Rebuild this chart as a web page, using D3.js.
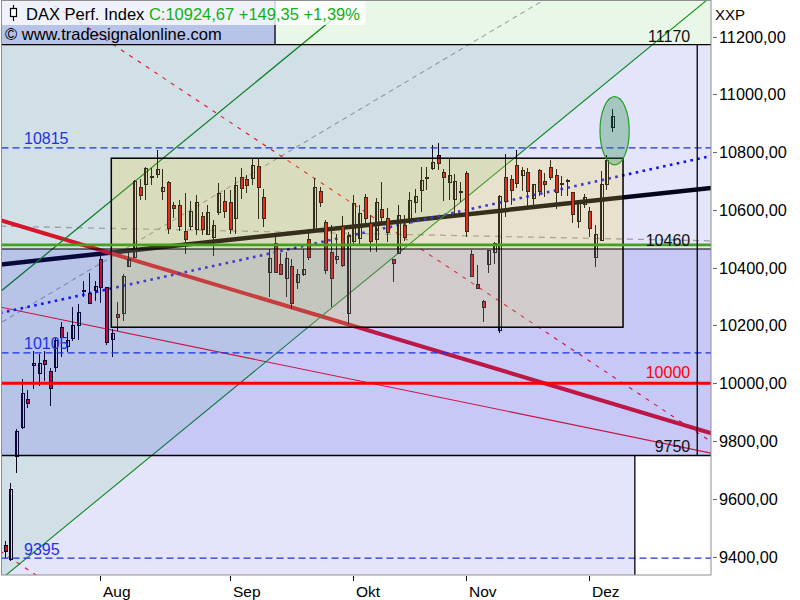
<!DOCTYPE html>
<html><head><meta charset="utf-8">
<script src="https://cdn.jsdelivr.net/npm/d3@7"></script>
<style>body{margin:0;background:#fff}svg{display:block}text{font-family:"Liberation Sans",Arial,sans-serif}</style>
</head><body><svg id="c" width="800" height="600"></svg>
<script>
// ---- DATA ----
const opens  = [9437,9389,9746,9846,9944,10061,10033,10079,10042,10053,10194,10128,10154,10200,10317,10310,10321,10429,10331,10150,10238,10243,10405,10436,10678,10688,10715,10723,10665,10696,10616,10616,10526,10543,10533,10578,10515,10505,10592,10630,10627,10572,10712,10705,10708,10749,10643,10383,10483,10410,10362,10403,10350,10376,10497,10527,10664,10556,10452,10428,10544,10241,10492,10500,10643,10552,10497,10602,10572,10429,10448,10547,10560,10627,10668,10710,10745,10787,10729,10695,10636,10659,10726,10446,10341,10283,10410,10452,10183,10713,10705,10754,10720,10731,10641,10737,10699,10748,10720,10690,10700,10659,10560,10618,10595,10437,10495,10688,10884];
const highs  = [9453,9656,9843,10016,9978,10110,10103,10111,10054,10157,10211,10177,10263,10276,10354,10381,10354,10443,10333,10189,10281,10377,10460,10705,10706,10748,10744,10806,10741,10699,10626,10633,10657,10630,10651,10592,10616,10564,10692,10668,10668,10714,10745,10722,10780,10780,10674,10466,10514,10452,10454,10429,10397,10466,10535,10711,10679,10564,10547,10518,10578,10523,10651,10616,10656,10581,10643,10697,10607,10431,10616,10584,10662,10674,10749,10749,10824,10830,10741,10778,10726,10697,10734,10460,10408,10287,10463,10489,10651,10795,10720,10807,10749,10745,10688,10743,10729,10772,10743,10716,10708,10660,10630,10656,10610,10547,10734,10789,10949];
const lows   = [9396,9385,9690,9843,9916,9981,9989,10009,9923,10040,10090,10107,10148,10150,10298,10273,10284,10277,10131,10090,10180,10217,10402,10433,10633,10636,10685,10710,10633,10515,10571,10526,10446,10529,10512,10512,10512,10439,10581,10572,10516,10516,10639,10659,10685,10570,10541,10298,10383,10376,10298,10258,10327,10371,10428,10523,10610,10379,10263,10414,10402,10206,10483,10483,10552,10454,10454,10552,10489,10350,10448,10491,10552,10591,10593,10668,10737,10737,10630,10633,10587,10627,10506,10367,10325,10211,10383,10414,10175,10575,10618,10676,10664,10607,10612,10647,10645,10703,10604,10647,10648,10555,10537,10607,10506,10402,10491,10668,10870];
const closes = [9417,9632,9833,9964,9930,10068,10069,10064,9981,10148,10157,10148,10200,10246,10320,10275,10336,10331,10142,10171,10227,10370,10429,10699,10651,10744,10713,10741,10677,10536,10605,10543,10498,10595,10626,10533,10592,10547,10657,10593,10533,10685,10674,10685,10754,10676,10572,10431,10385,10378,10431,10275,10376,10393,10437,10677,10627,10391,10362,10439,10406,10512,10622,10587,10570,10491,10625,10575,10523,10414,10581,10506,10633,10647,10703,10712,10764,10760,10711,10720,10699,10665,10527,10370,10327,10261,10460,10483,10647,10630,10668,10693,10737,10664,10688,10665,10688,10714,10662,10691,10702,10584,10627,10643,10535,10514,10688,10772,10925];
const monthLabels = ["Aug","Sep","Okt","Nov","Dez"];
const monthBars   = [17,40,62,82,104];
const yTickValues = [9400,9600,9800,10000,10200,10400,10600,10800,11000,11200];
// trend lines: [bar, price] anchor pairs
const upperChannel = [[-0.85,10316],[59,11271]];
const lowerChannel = [[0.21,9336],[124.2,11315]];
const redThick     = [[-0.85,10565],[125.7,9827]];
const redThin      = [[-0.85,10264],[125.7,9758]];
const redDashA     = [[7.33,11327],[125.7,9797]];
const redDashB     = [[-0.85,9419],[7.33,9313]];
const grayRise     = [[-0.5,10212],[95.95,11327]];
const grayFlat     = [[-0.85,10544],[125.7,10493]];
const blueDotted   = [[-0.85,10243],[125.7,10787]];
const blackTrend   = [[-0.85,10411],[125.7,10676]];
// horizontal levels
const levelTop = 11172, levelBlue1 = 10815, levelGreen = 10479, levelMid = 10465, levelBlue2 = 10105, levelRed = 10000, levelLow = 9750, levelBlue3 = 9395;
const levelLabelsRight = [["11170",11172,"#111"],["10460",10465,"#111"],["10000",10000,"#ff0000"],["9750",9750,"#111"]];
const levelLabelsLeft  = [["10815",10815],["10105",10105],["9395",9395]];
// zones (bar index bounds)
const zoneTopLeftEnd = 48.08, zoneMainEnd = 123.2, zoneLowEnd = 112.1;
const box = {i0:18.95, i1:110, p0:10194, p1:10779};
const ellipse = {i:108.5, p:10874, di:2.6, dp:118};

// ---- CHART ----
const svg = d3.select("#c");
const L = 1.5, R = 711, T = 0.5, B = 575;
const x = d3.scaleLinear().domain([0,108]).range([4.8,611.8]);
const y = d3.scaleLinear().domain([9400,11200]).range([556.6,36.6]);
const P = a => [x(a[0]), y(a[1])];
const line = d3.line();

svg.append("defs").append("clipPath").attr("id","plot")
  .append("rect").attr("x",L).attr("y",T).attr("width",R-L).attr("height",B-T);
const g = svg.append("g").attr("clip-path","url(#plot)");
g.append("rect").attr("x",L).attr("y",T).attr("width",R-L).attr("height",B-T).attr("fill","#fff");

function ext(seg,t0,t1){const p=P(seg[0]),q=P(seg[1]);const dx=q[0]-p[0],dy=q[1]-p[1];
  return [[p[0]+dx*t0,p[1]+dy*t0],[p[0]+dx*t1,p[1]+dy*t1]];}
// green base left of lower channel line
const [e1,e2] = ext(lowerChannel,-1,2);
g.append("polygon").attr("points",[e1,e2,[e2[0]-3000,e2[1]],[e1[0]-3000,e1[1]]].map(p=>p.join(",")).join(" "))
  .attr("fill","#eafaea");
g.append("rect").attr("x",x(zoneTopLeftEnd)).attr("y",T).attr("width",R-x(zoneTopLeftEnd)).attr("height",y(levelTop)-T).attr("fill","#e9f7e9");

function drawSeg(seg, opts, t0=0, t1=1){
  const pts = ext(seg,t0,t1);
  const p = g.append("path").attr("d",line(pts)).attr("fill","none")
    .attr("stroke",opts.c).attr("stroke-width",opts.w);
  if(opts.dash) p.attr("stroke-dasharray",opts.dash);
  return p;
}
drawSeg(grayRise,{c:"#a4a4a4",w:1.1,dash:"5,4"});
drawSeg(grayFlat,{c:"#b0aca4",w:1.3,dash:"6,5"});
drawSeg(redDashA,{c:"#ff1010",w:1.1,dash:"4,6"});
drawSeg(redDashB,{c:"#ff1010",w:1.1,dash:"4,6"},0,1.5);
drawSeg(blackTrend,{c:"#000",w:4.5});
drawSeg(redThick,{c:"#f01414",w:4});
drawSeg(redThin,{c:"#ff1010",w:1.1});
drawSeg(blueDotted,{c:"#1010ff",w:2.6,dash:"2.6,4.4"});
drawSeg(upperChannel,{c:"#0c8c0c",w:1.3});
drawSeg(lowerChannel,{c:"#0c960c",w:1.1},-0.1,1.1);

// candles
const cg = g.append("g").attr("shape-rendering","crispEdges");
opens.forEach((o,i)=>{
  const c = closes[i], cx = Math.round(x(i));
  cg.append("line").attr("x1",cx+0.5).attr("x2",cx+0.5).attr("y1",y(highs[i])).attr("y2",y(lows[i]))
    .attr("stroke","#000").attr("stroke-width",1);
  const top = y(Math.max(o,c)), bot = y(Math.min(o,c));
  cg.append("rect").attr("x",cx-1).attr("y",top).attr("width",3).attr("height",Math.max(1,bot-top))
    .attr("fill", c<o ? "#ff0000" : "none").attr("stroke","#000").attr("stroke-width",1);
});

// translucent overlays
function zone(i0,i1,p0,p1,fill){
  const x0 = i0===null?L:x(i0), x1 = i1===null?R:x(i1);
  const y0 = p0===null?B:y(p0), y1 = p1===null?T:y(p1);
  g.append("rect").attr("x",x0).attr("y",y1).attr("width",x1-x0).attr("height",y0-y1).attr("fill",fill);
}
const O1 = "rgba(30,30,213,0.12)", O2 = "rgba(40,40,235,0.15)";
zone(null,null,levelLow,levelTop,O1);
zone(null,zoneLowEnd,null,levelLow,O1);
zone(null,zoneTopLeftEnd,levelTop,null,O1);
zone(null,null,levelLow,levelMid,O2);
zone(null,zoneTopLeftEnd,levelTop,null,O2);
zone(box.i0,box.i1,box.p0,box.p1,"rgba(249,216,32,0.2)");

// box border
g.append("rect").attr("x",x(box.i0)).attr("y",y(box.p1)).attr("width",x(box.i1)-x(box.i0))
  .attr("height",y(box.p0)-y(box.p1)).attr("fill","none").attr("stroke","#000").attr("stroke-width",1.5);

// horizontal levels
function hline(p,c,w,dash){const l=g.append("line").attr("x1",L).attr("x2",R).attr("y1",y(p)).attr("y2",y(p))
  .attr("stroke",c).attr("stroke-width",w); if(dash) l.attr("stroke-dasharray",dash);}
hline(levelTop,"#000",1.3);
hline(levelBlue1,"#1a30e6",1.2,"7,4");
hline(levelGreen,"#46a020",2.6);
hline(levelMid,"#000",1.1);
hline(levelBlue2,"#1a30e6",1.2,"7,4");
hline(levelRed,"#ff0000",3);
hline(levelLow,"#000",1.3);
hline(levelBlue3,"#1a30e6",1.2,"7,4");
function vline(i,p0,p1){g.append("line").attr("x1",x(i)).attr("x2",x(i))
  .attr("y1",p0===null?B:y(p0)).attr("y2",p1===null?T:y(p1)).attr("stroke","#000").attr("stroke-width",1.3);}
vline(zoneTopLeftEnd,levelTop,null);
vline(zoneMainEnd,levelLow,levelTop);
vline(zoneLowEnd,null,levelLow);

// ellipse
g.append("ellipse").attr("cx",x(ellipse.i)).attr("cy",y(ellipse.p))
  .attr("rx",x(ellipse.i+ellipse.di)-x(ellipse.i)).attr("ry",y(ellipse.p-ellipse.dp)-y(ellipse.p))
  .attr("fill","rgba(40,140,80,0.33)").attr("stroke","#22a022").attr("stroke-width",1.2);

// level labels
levelLabelsRight.forEach(([t,p,c])=>{
  g.append("text").attr("x",x(zoneMainEnd)-7).attr("y",y(p)-(c==="#ff0000"?5:3)).attr("text-anchor","end")
   .attr("font-size",16).attr("fill",c).text(t);
});
levelLabelsLeft.forEach(([t,p])=>{
  g.append("text").attr("x",24).attr("y",y(p)-3.5).attr("font-size",16).attr("fill","#1e32e6").text(t);
});

// header
g.append("rect").attr("x",L).attr("y",T).attr("width",364).attr("height",24.5).attr("fill","rgba(255,255,255,0.78)");
g.append("line").attr("x1",13.5).attr("x2",13.5).attr("y1",5).attr("y2",21).attr("stroke","#000").attr("stroke-width",1.2);
g.append("rect").attr("x",10.5).attr("y",8.5).attr("width",6).attr("height",8).attr("fill","#fff").attr("stroke","#000").attr("stroke-width",1.2);
const ht = g.append("text").attr("x",26).attr("y",19.5).attr("font-size",16.5);
ht.append("tspan").attr("fill","#000").text("DAX Perf. Index ");
ht.append("tspan").attr("fill","#12b012").text("C:10924,67 +149,35 +1,39%");
g.append("text").attr("x",5).attr("y",40).attr("font-size",16.5).attr("fill","#000").text("© www.tradesignalonline.com");

// frame
svg.append("rect").attr("x",L).attr("y",T).attr("width",R-L).attr("height",B-T).attr("fill","none")
  .attr("stroke","#8e8e8e").attr("stroke-width",1);

// right axis
yTickValues.forEach(v=>{
  svg.append("line").attr("x1",713).attr("x2",717).attr("y1",Math.round(y(v))+0.5).attr("y2",Math.round(y(v))+0.5).attr("stroke","#666");
  svg.append("text").attr("x",719).attr("y",y(v)+6).attr("font-size",16.3).attr("fill","#000")
    .text(d3.format(".2f")(v).replace(".",","));
});
svg.append("text").attr("x",715).attr("y",20).attr("font-size",15).attr("fill","#000").text("XXP");

// bottom axis
monthBars.forEach((b,k)=>{
  const xx = Math.round(x(b))+0.5;
  svg.append("line").attr("x1",xx).attr("x2",xx).attr("y1",576).attr("y2",581).attr("stroke","#000");
  svg.append("text").attr("x",xx+2.5).attr("y",597).attr("font-size",15.5).attr("fill","#000").text(monthLabels[k]);
});
</script></body></html>
